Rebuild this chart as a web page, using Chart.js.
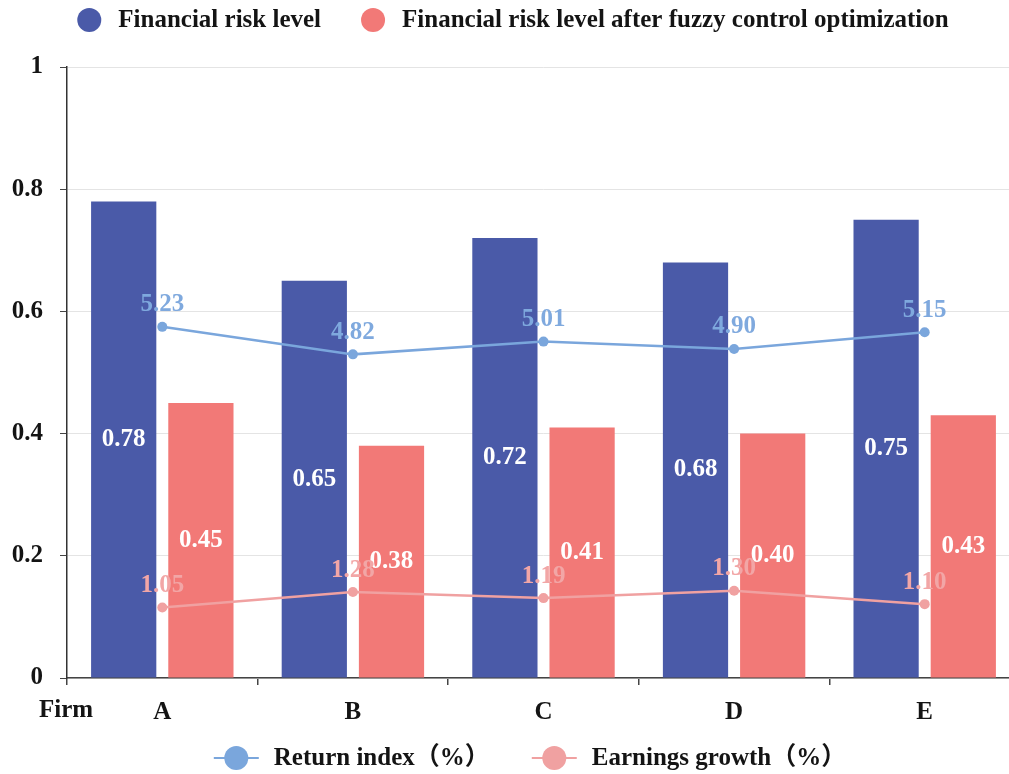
<!DOCTYPE html>
<html>
<head>
<meta charset="utf-8">
<script src="https://cdn.jsdelivr.net/npm/chart.js@4.4.0/dist/chart.umd.min.js"></script>
<style>
  html, body { margin: 0; padding: 0; overflow: hidden; background: #ffffff; }
  #wrap { width: 1026px; height: 774px; }
</style>
</head>
<body>
<div id="wrap"><canvas id="chart" width="1026" height="774"></canvas></div>
<script>
// Categories and series
const firms = ['A', 'B', 'C', 'D', 'E'];
const riskLevel = [0.78, 0.65, 0.72, 0.68, 0.75];
const riskLevelOptimized = [0.45, 0.38, 0.41, 0.40, 0.43];
const returnIndex = [5.23, 4.82, 5.01, 4.90, 5.15];
const earningsGrowth = [1.05, 1.28, 1.19, 1.30, 1.10];
const riskTicks = [0, 0.2, 0.4, 0.6, 0.8, 1];

const seriesNames = {
  risk: 'Financial risk level',
  riskOpt: 'Financial risk level after fuzzy control optimization',
  ret: 'Return index（%）',
  earn: 'Earnings growth（%）'
};
const axisName = 'Firm';

const FAMILY = '"Liberation Serif", "Times New Roman", "Noto Sans CJK SC", serif';
const BOLD = 'bold 25px ' + FAMILY;
const TEXT = '#141414';
const BLUE = '#4a5aa8';
const RED = '#f27977';
const RET = '#7aa6dc';
const EARN = '#f0a1a1';

// Value labels: centred white text in bars, coloured text above line points
const valueLabels = {
  id: 'valueLabels',
  afterDatasetsDraw(chart) {
    const ctx = chart.ctx;
    ctx.save();
    ctx.font = BOLD;
    ctx.textAlign = 'center';
    ctx.textBaseline = 'middle';
    const draw = (type) => {
      chart.data.datasets.forEach((ds, i) => {
        if (ds.type !== type) return;
        chart.getDatasetMeta(i).data.forEach((el, j) => {
          const txt = ds.data[j].toFixed(2);
          if (type === 'bar') {
            ctx.fillStyle = '#ffffff';
            ctx.fillText(txt, el.x, (el.y + el.base) / 2);
          } else {
            ctx.fillStyle = ds.labelColor;
            ctx.fillText(txt, el.x, el.y - 22);
          }
        });
      });
    };
    draw('bar');
    draw('line');
    ctx.restore();
  }
};

// Legends (bars on top, lines at the bottom) and the category axis name
const legends = {
  id: 'legends',
  afterDraw(chart) {
    const ctx = chart.ctx;
    const sets = chart.data.datasets;
    ctx.save();
    ctx.font = BOLD;
    ctx.textBaseline = 'middle';
    ctx.textAlign = 'left';

    // top legend: filled circle + text
    const bars = sets.filter(d => d.type === 'bar');
    const r = 12, toText = 29, between = 40;
    let total = 0;
    bars.forEach((d, i) => {
      total += r + toText + ctx.measureText(d.label).width + (i < bars.length - 1 ? between : 0);
    });
    let x = chart.width / 2 - total / 2 + r;
    const yTop = 20;
    bars.forEach(d => {
      ctx.fillStyle = d.backgroundColor;
      ctx.beginPath();
      ctx.arc(x, yTop, r, 0, Math.PI * 2);
      ctx.fill();
      ctx.fillStyle = TEXT;
      ctx.fillText(d.label, x + toText, yTop + 1);
      x += toText + ctx.measureText(d.label).width + between + r;
    });

    // bottom legend: line with circle marker + text
    const lines = sets.filter(d => d.type === 'line');
    const half = 22.5, gap = 15, spacing = 42;
    total = 0;
    lines.forEach((d, i) => {
      total += half * 2 + gap + ctx.measureText(d.label).width + (i < lines.length - 1 ? spacing : 0);
    });
    x = chart.width / 2 + 17 - total / 2;
    const yBot = 758;
    lines.forEach(d => {
      const cx = x + half;
      ctx.strokeStyle = d.borderColor;
      ctx.lineWidth = 2;
      ctx.beginPath();
      ctx.moveTo(x, yBot);
      ctx.lineTo(x + half * 2, yBot);
      ctx.stroke();
      ctx.fillStyle = d.borderColor;
      ctx.beginPath();
      ctx.arc(cx, yBot, r, 0, Math.PI * 2);
      ctx.fill();
      ctx.fillStyle = TEXT;
      ctx.fillText(d.label, x + half * 2 + gap, yBot + 1);
      x += half * 2 + gap + ctx.measureText(d.label).width + spacing;
    });

    // axis name under the origin
    ctx.fillText(axisName, chart.chartArea.left - 28, chart.chartArea.bottom + 33);
    ctx.restore();
  }
};

new Chart(document.getElementById('chart'), {
  data: {
    labels: firms,
    datasets: [
      {
        type: 'line', label: seriesNames.ret, data: returnIndex, yAxisID: 'y2',
        borderColor: RET, backgroundColor: RET, pointBackgroundColor: RET, pointBorderColor: RET,
        borderWidth: 2.5, pointRadius: 5, pointBorderWidth: 0, tension: 0, order: 1,
        labelColor: '#7fa9de'
      },
      {
        type: 'line', label: seriesNames.earn, data: earningsGrowth, yAxisID: 'y2',
        borderColor: EARN, backgroundColor: EARN, pointBackgroundColor: EARN, pointBorderColor: EARN,
        borderWidth: 2.5, pointRadius: 5, pointBorderWidth: 0, tension: 0, order: 1,
        labelColor: '#f2a6a6'
      },
      {
        type: 'bar', label: seriesNames.risk, data: riskLevel, yAxisID: 'y',
        backgroundColor: BLUE, categoryPercentage: 0.81, barPercentage: 0.845, order: 2
      },
      {
        type: 'bar', label: seriesNames.riskOpt, data: riskLevelOptimized, yAxisID: 'y',
        backgroundColor: RED, categoryPercentage: 0.81, barPercentage: 0.845, order: 2
      }
    ]
  },
  options: {
    responsive: false,
    animation: false,
    layout: { padding: { top: 67, right: 6, bottom: 33, left: 12 } },
    plugins: {
      legend: { display: false },
      tooltip: { enabled: false }
    },
    scales: {
      x: {
        type: 'category',
        offset: true,
        grid: { offset: true, drawOnChartArea: false, drawTicks: true, tickLength: 7, tickColor: '#444', lineWidth: 1.5 },
        border: { display: true, color: '#444', width: 1.5 },
        ticks: { color: TEXT, font: { family: FAMILY, size: 25, weight: 'bold' }, padding: 13, maxRotation: 0 }
      },
      y: {
        min: 0, max: 1,
        afterBuildTicks: (scale) => { scale.ticks = riskTicks.map(v => ({ value: v })); },
        afterFit: (scale) => { scale.width = 55; },
        grid: { color: '#e4e4e4', lineWidth: 1, tickLength: 7, tickColor: '#444' },
        border: { display: true, color: '#333', width: 1.5 },
        ticks: {
          color: TEXT, font: { family: FAMILY, size: 25, weight: 'bold' }, padding: 17,
          callback: (v) => String(Number(v.toFixed(1)))
        }
      },
      y2: { display: false, min: 0, max: 9.1 }
    }
  },
  plugins: [valueLabels, legends]
});
</script>
</body>
</html>
